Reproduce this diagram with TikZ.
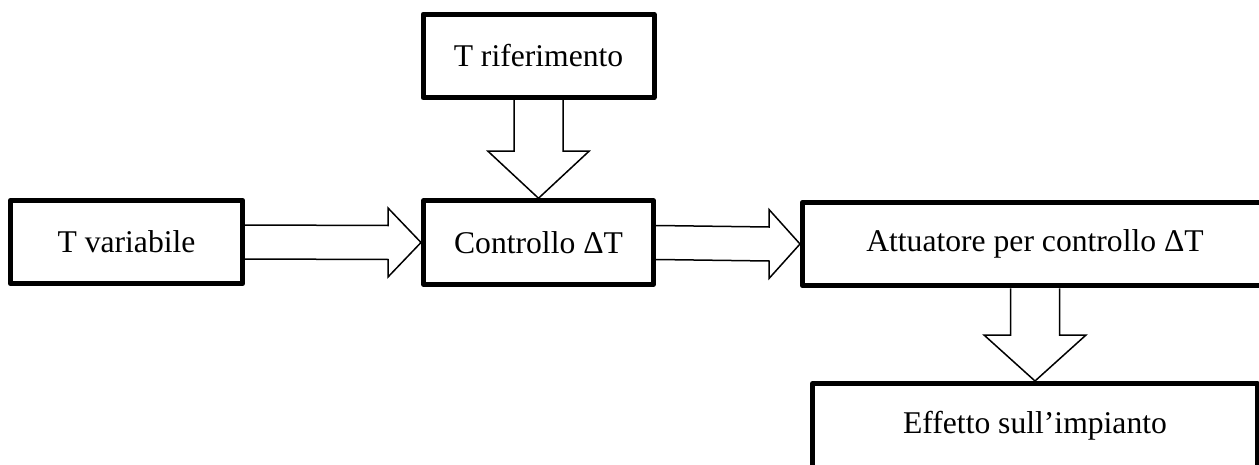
\documentclass[tikz,border=0pt]{standalone}
\usepackage{fontspec}
\setmainfont{Liberation Serif}
\usetikzlibrary{calc}

\begin{document}
\begin{tikzpicture}[
    box/.style={draw, line width=0.1cm, line join=round, inner sep=0pt, minimum height=1.67cm, font=\fontsize{18}{20}\selectfont},
    blockarrow/.style={draw, line width=0.03cm, line join=miter}]
        \useasboundingbox (0,0) rectangle (25.18,-9.30);
        \clip (0,0) rectangle (25.18,-9.30);
        % blocchi
        \node[box, minimum width=4.62cm] (trif) at (10.77,-1.12) {T riferimento};
        \node[box, minimum width=4.64cm] (tvar) at (2.53,-4.84) {T variabile};
        \node[box, minimum width=4.60cm] (ctrl) at (10.77,-4.85) {Controllo ΔT};
        \node[box, minimum width=9.30cm] (att) at (20.70,-4.88) {Attuatore per controllo ΔT};
        \node[box, minimum width=8.90cm, minimum height=1.70cm] (eff) at (20.70,-8.52) {Effetto sull’impianto};
        % frecce
        \draw[blockarrow] ($(trif.south)+(-0.49,0)$) -- ($(ctrl.north)+(-0.49,0.94)$) -- ($(ctrl.north)+(-1.01,0.94)$)
            -- (ctrl.north) -- ($(ctrl.north)+(1.01,0.94)$) -- ($(ctrl.north)+(0.49,0.94)$) -- ($(trif.south)+(0.49,0)$);
        \draw[blockarrow] ($(tvar.east)+(0,0.34)$) -- ($(ctrl.west)+(-0.66,0.34)$) -- ($(ctrl.west)+(-0.66,0.69)$)
            -- (ctrl.west) -- ($(ctrl.west)+(-0.66,-0.69)$) -- ($(ctrl.west)+(-0.66,-0.34)$) -- ($(tvar.east)+(0,-0.34)$);
        \draw[blockarrow] ($(ctrl.east)+(0,0.34)$) -- ($(att.west)+(-0.62,0.34)$) -- ($(att.west)+(-0.62,0.69)$)
            -- (att.west) -- ($(att.west)+(-0.62,-0.69)$) -- ($(att.west)+(-0.62,-0.34)$) -- ($(ctrl.east)+(0,-0.34)$);
        \draw[blockarrow] ($(att.south)+(-0.49,0)$) -- ($(eff.north)+(-0.49,0.92)$) -- ($(eff.north)+(-1.02,0.92)$)
            -- (eff.north) -- ($(eff.north)+(1.02,0.92)$) -- ($(eff.north)+(0.49,0.92)$) -- ($(att.south)+(0.49,0)$);
    \end{tikzpicture}
\end{document}
